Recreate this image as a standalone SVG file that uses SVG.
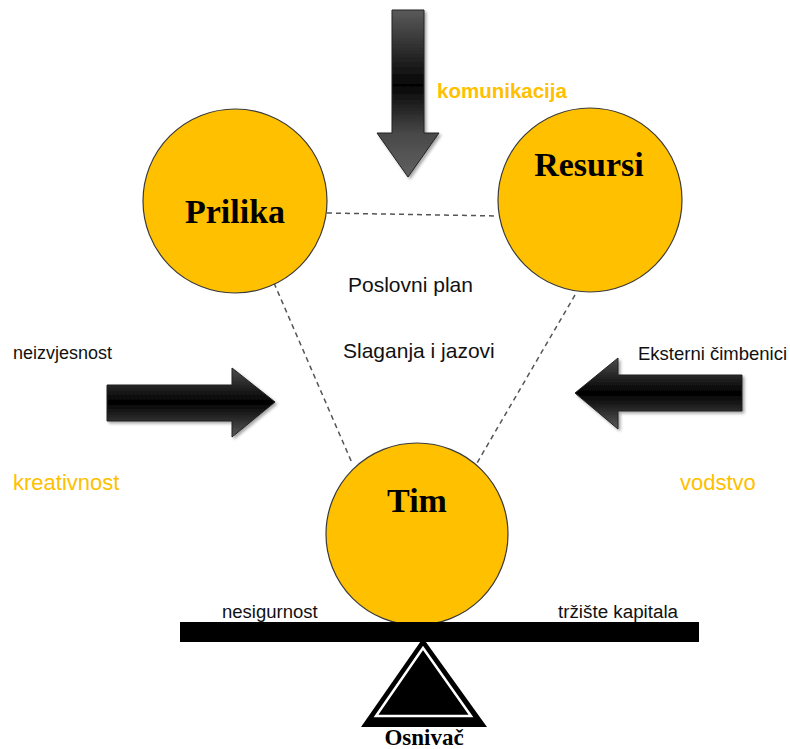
<svg xmlns="http://www.w3.org/2000/svg" width="790" height="749" viewBox="0 0 790 749">
  <style>
    .node { fill: #FFC000; stroke: #3a3a3a; stroke-width: 1.2; }
    .title { font-family: "Liberation Serif", "Times New Roman", serif; font-weight: bold; font-size: 34px; fill: #000; text-anchor: middle; }
    .lbl { font-family: "Liberation Sans", Arial, sans-serif; font-size: 18px; fill: #111; }
    .mid { font-family: "Liberation Sans", Arial, sans-serif; font-size: 21px; fill: #111; }
    .orange { font-family: "Liberation Sans", Arial, sans-serif; font-size: 22px; fill: #FFC000; }
    .dash { stroke: #555; stroke-width: 1.5; stroke-dasharray: 5 4; fill: none; }
    .arrow { stroke: #222; stroke-width: 1; }
  </style>
  <defs>
    <linearGradient id="gDown" x1="0" y1="0" x2="0" y2="1">
      <stop offset="0" stop-color="#5a5a5a"/>
      <stop offset="0.45" stop-color="#050505"/>
      <stop offset="0.75" stop-color="#4a4a4a"/>
      <stop offset="1" stop-color="#606060"/>
    </linearGradient>
    <linearGradient id="gSide" x1="0" y1="0" x2="0" y2="1">
      <stop offset="0" stop-color="#4d4d4d"/>
      <stop offset="0.5" stop-color="#000"/>
      <stop offset="1" stop-color="#5a5a5a"/>
    </linearGradient>
    <filter id="sh" x="-20%" y="-20%" width="140%" height="140%">
      <feDropShadow dx="2" dy="2" stdDeviation="1.5" flood-color="#000" flood-opacity="0.35"/>
    </filter>
  </defs>

  <g id="connectors">
    <line class="dash" x1="327" y1="213" x2="498" y2="216"/>
    <line class="dash" x1="274" y1="283" x2="352" y2="463"/>
    <line class="dash" x1="575" y1="295" x2="477" y2="463"/>
  </g>

  <g id="arrow-komunikacija">
    <polygon class="arrow" fill="url(#gDown)" filter="url(#sh)" points="392,10 424,10 424,133 439,133 408,177 377,133 392,133"/>
    <text x="437" y="98" class="orange" style="font-weight:bold;font-size:20.5px">komunikacija</text>
  </g>

  <g id="arrow-neizvjesnost">
    <polygon class="arrow" fill="url(#gSide)" filter="url(#sh)" points="107,385 232,385 232,368 275,402 232,437 232,421 107,421"/>
    <text x="13" y="359" class="lbl">neizvjesnost</text>
  </g>

  <g id="arrow-eksterni">
    <polygon class="arrow" fill="url(#gSide)" filter="url(#sh)" points="742,375 618,375 618,358 575,393 618,429 618,411 742,411"/>
    <text x="638" y="360" class="lbl" style="font-size:18.5px">Eksterni čimbenici</text>
  </g>

  <g id="node-prilika">
    <circle class="node" cx="235" cy="201" r="92"/>
    <text x="235" y="223" class="title">Prilika</text>
  </g>

  <g id="node-resursi">
    <circle class="node" cx="590" cy="200" r="92"/>
    <text x="589" y="176" class="title">Resursi</text>
  </g>

  <g id="node-tim">
    <circle class="node" cx="417" cy="534" r="91"/>
    <text x="417" y="512" class="title">Tim</text>
  </g>

  <g id="center-labels">
    <text x="348" y="292" class="mid">Poslovni plan</text>
    <text x="343" y="358" class="mid">Slaganja i jazovi</text>
  </g>

  <g id="side-labels">
    <text x="13" y="490" class="orange">kreativnost</text>
    <text x="680" y="490" class="orange">vodstvo</text>
  </g>

  <g id="seesaw">
    <rect x="180" y="622" width="519" height="20" fill="#000"/>
    <text x="222" y="618" class="lbl" style="font-size:18.5px">nesigurnost</text>
    <text x="558" y="618" class="lbl" style="font-size:18.8px">tržište kapitala</text>
  </g>

  <g id="node-osnivac">
    <polygon points="423,638 361,727 487,727" fill="#000"/>
    <polygon points="423,648 376,716 471,716" fill="#000" stroke="#fff" stroke-width="2.5" stroke-linejoin="miter"/>
    <text x="424" y="745" class="title" style="font-size:23px">Osnivač</text>
  </g>
</svg>
